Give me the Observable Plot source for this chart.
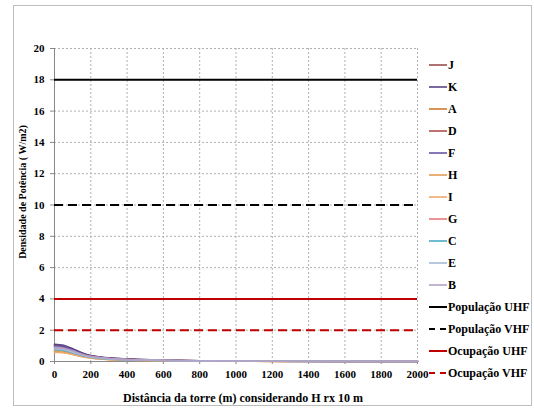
<!DOCTYPE html>
<html><head><meta charset="utf-8">
<script src="https://cdn.jsdelivr.net/npm/d3@7"></script>
<script src="https://cdn.jsdelivr.net/npm/@observablehq/plot@0.6"></script>
<style>
body{margin:0;background:#fff;font-family:"Liberation Serif","Times New Roman",serif;}
#wrap{position:relative;width:534px;height:408px;overflow:hidden;}
#frame{position:absolute;left:13px;top:5px;width:519px;height:401px;border:1px solid #bdbdbd;box-sizing:border-box;pointer-events:none;}
#chart{position:absolute;left:0;top:0;}
#legend{position:absolute;left:429px;top:54px;font-size:12px;font-weight:bold;color:#000;}
.row{height:22px;display:flex;align-items:center;white-space:nowrap;}
.row svg{margin-right:1px;}
#xtitle{position:absolute;left:243px;top:398px;transform:translate(-50%,-50%);font-size:12px;font-weight:bold;white-space:nowrap;line-height:1;}
#ytitle{position:absolute;left:23px;top:192px;transform:translate(-50%,-50%) rotate(-90deg);font-size:10px;font-weight:bold;white-space:nowrap;line-height:1;}
</style></head>
<body>
<div id="wrap"><div id="chart"></div><div id="legend"></div><div id="xtitle"></div><div id="ytitle"></div><div id="frame"></div></div>
<script>
const xs = [0, 50, 100, 150, 200, 250, 300, 400, 500, 600, 700, 800, 1000, 1200, 1400, 1600, 1800, 2000];
const seriesNames = ["J","K","A","D","F","H","I","G","C","E","B"];
const seriesColors = ["#9b4f4d","#5a4585","#cc7a2e","#b0504c","#6a55a5","#e59a55","#f0a868","#e8797a","#4bacc6","#a7bcd8","#b3a2c7"];
const J = [1.05, 0.98, 0.78, 0.54, 0.37, 0.28, 0.22, 0.15, 0.11, 0.09, 0.06, 0.04, 0.025, 0.018, 0.013, 0.01, 0.008, 0.006];
const K = [1.10, 1.03, 0.81, 0.56, 0.38, 0.29, 0.23, 0.16, 0.12, 0.09, 0.06, 0.04, 0.026, 0.018, 0.013, 0.01, 0.008, 0.006];
const A = [0.62, 0.58, 0.47, 0.33, 0.23, 0.17, 0.13, 0.09, 0.07, 0.05, 0.035, 0.025, 0.015, 0.01, 0.008, 0.006, 0.005, 0.004];
const D = [0.95, 0.89, 0.71, 0.49, 0.34, 0.26, 0.2, 0.14, 0.1, 0.08, 0.055, 0.037, 0.023, 0.016, 0.012, 0.009, 0.007, 0.005];
const F = [1.0, 0.94, 0.74, 0.51, 0.35, 0.27, 0.21, 0.145, 0.105, 0.085, 0.058, 0.038, 0.024, 0.017, 0.012, 0.009, 0.007, 0.006];
const H = [0.7, 0.66, 0.53, 0.37, 0.26, 0.19, 0.15, 0.1, 0.075, 0.06, 0.04, 0.028, 0.017, 0.012, 0.009, 0.007, 0.005, 0.004];
const I = [0.6, 0.56, 0.45, 0.31, 0.22, 0.16, 0.12, 0.085, 0.065, 0.05, 0.034, 0.024, 0.015, 0.01, 0.008, 0.006, 0.005, 0.004];
const G = [0.85, 0.8, 0.64, 0.44, 0.31, 0.23, 0.18, 0.12, 0.09, 0.07, 0.048, 0.033, 0.02, 0.014, 0.01, 0.008, 0.006, 0.005];
const C = [0.75, 0.7, 0.56, 0.39, 0.27, 0.2, 0.16, 0.11, 0.08, 0.065, 0.044, 0.03, 0.018, 0.013, 0.009, 0.007, 0.006, 0.004];
const E = [0.8, 0.75, 0.6, 0.42, 0.29, 0.22, 0.17, 0.115, 0.085, 0.068, 0.046, 0.031, 0.019, 0.013, 0.01, 0.008, 0.006, 0.005];
const B = [0.9, 0.85, 0.68, 0.47, 0.32, 0.25, 0.19, 0.13, 0.095, 0.075, 0.05, 0.035, 0.022, 0.015, 0.011, 0.008, 0.007, 0.005];
const seriesValues = [J, K, A, D, F, H, I, G, C, E, B];

const refNames = ["População UHF","População VHF","Ocupação UHF","Ocupação VHF"];
const refValues = [18, 10, 4, 2];
const refColors = ["#000000","#000000","#c00000","#c00000"];
const refDashed = [false, true, false, true];

const xTicks = [0,200,400,600,800,1000,1200,1400,1600,1800,2000];
const yTicks = [0,2,4,6,8,10,12,14,16,18,20];
const xTitle = "Distância da torre (m) considerando H rx 10 m";
const yTitle = "Densidade de Potência ( W/m2)";

const rows = [];
seriesNames.forEach((s, i) => seriesValues[i].forEach((v, j) => rows.push({series: s, x: xs[j], y: v})));
const refs = refNames.map((n, i) => ({name: n, value: refValues[i], color: refColors[i], dashed: refDashed[i]}));

const plot = Plot.plot({
  width: 534, height: 408,
  marginLeft: 54, marginRight: 117, marginTop: 48, marginBottom: 47,
  style: {fontFamily: "'Liberation Serif','Times New Roman',serif", fontSize: "11px", fontWeight: "bold", color: "#000", background: "transparent"},
  x: {domain: [0, 2000]},
  y: {domain: [0, 20]},
  color: {domain: seriesNames, range: seriesColors},
  marks: [
    Plot.gridX(xTicks, {stroke: "#b0b0b0", strokeOpacity: 1, strokeDasharray: "2,2"}),
    Plot.gridY(yTicks, {stroke: "#b0b0b0", strokeOpacity: 1, strokeDasharray: "2,2"}),
    Plot.axisX(xTicks, {tickSize: 3, tickPadding: 6, tickFormat: d => String(d), stroke: "#888", label: null}),
    Plot.axisY(yTicks, {tickSize: 4, tickPadding: 6, tickFormat: d => String(d), stroke: "#888", label: null}),
    Plot.ruleX([0], {stroke: "#888"}),
    Plot.ruleY([0], {stroke: "#888"}),
    Plot.line(rows, {x: "x", y: "y", z: "series", stroke: "series", strokeWidth: 1.6, curve: "monotone-x"}),
    Plot.ruleY(refs.filter(d => !d.dashed), {y: "value", stroke: "color", strokeWidth: 2}),
    Plot.ruleY(refs.filter(d => d.dashed), {y: "value", stroke: "color", strokeWidth: 2, strokeDasharray: "9,5"})
  ]
});
document.getElementById("chart").appendChild(plot);
document.getElementById("xtitle").textContent = xTitle;
document.getElementById("ytitle").textContent = yTitle;

// legend
const leg = document.getElementById("legend");
const items = seriesNames.map((n, i) => ({name: n, color: seriesColors[i], dashed: false, w: 1.6}))
  .concat(refs.map(r => ({name: r.name, color: r.color, dashed: r.dashed, w: 2})));
items.forEach(it => {
  const row = document.createElement("div");
  row.className = "row";
  const dash = it.dashed ? ' stroke-dasharray="6,5"' : '';
  row.innerHTML = `<svg width="18" height="4"><line x1="0" y1="2" x2="18" y2="2" stroke="${it.color}" stroke-width="${it.w}"${dash}/></svg><span>${it.name}</span>`;
  leg.appendChild(row);
});
</script>
</body></html>
